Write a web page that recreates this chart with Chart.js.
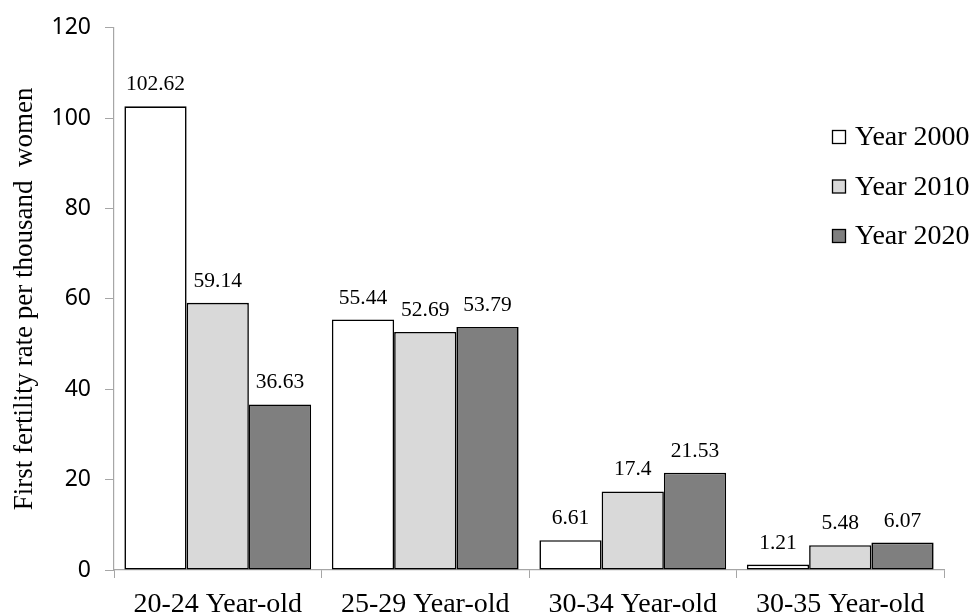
<!DOCTYPE html>
<html>
<head>
<meta charset="utf-8">
<script src="https://cdn.jsdelivr.net/npm/chart.js@4.4.1/dist/chart.umd.min.js"></script>
<style>
  html, body { margin: 0; padding: 0; background: #fff; }
  #wrap { width: 972px; height: 616px; }
</style>
</head>
<body>
<div id="wrap"><canvas id="chart" width="972" height="616"></canvas></div>
<script>
const AGE_GROUPS = ['20-24 Year-old', '25-29 Year-old', '30-34 Year-old', '30-35 Year-old'];
const YEAR_2000 = [102.62, 55.44, 6.61, 1.21];
const YEAR_2010 = [59.14, 52.69, 17.4, 5.48];
const YEAR_2020 = [36.63, 53.79, 21.53, 6.07];
const SERIES_NAMES = ['Year 2000', 'Year 2010', 'Year 2020'];

const FILLS = ['#ffffff', '#d9d9d9', '#7f7f7f'];
const SERIF = '"Liberation Serif", "Times New Roman", serif';

// value above each bar
const barLabels = {
  id: 'barLabels',
  afterDatasetsDraw(chart) {
    const ctx = chart.ctx;
    ctx.save();
    ctx.font = '21.5px ' + SERIF;
    ctx.fillStyle = '#000';
    ctx.textAlign = 'center';
    ctx.textBaseline = 'alphabetic';
    chart.data.datasets.forEach((ds, i) => {
      chart.getDatasetMeta(i).data.forEach((bar, j) => {
        ctx.fillText(String(ds.data[j]), bar.x, bar.y - 16);
      });
    });
    ctx.restore();
  }
};

// legend drawn inside the plot, upper right
const sideLegend = {
  id: 'sideLegend',
  afterDraw(chart) {
    const ctx = chart.ctx;
    ctx.save();
    ctx.font = '28px ' + SERIF;
    ctx.textBaseline = 'middle';
    ctx.textAlign = 'left';
    chart.data.datasets.forEach((ds, i) => {
      const y = 137 + i * 49.5;
      ctx.fillStyle = ds.backgroundColor;
      ctx.fillRect(832.5, y - 6.5, 13, 13);
      ctx.strokeStyle = '#000';
      ctx.lineWidth = 1.3;
      ctx.strokeRect(832.5, y - 6.5, 13, 13);
      ctx.fillStyle = '#000';
      ctx.fillText(ds.label, 855, y + 1);
    });
    ctx.restore();
  }
};

const datasets = [YEAR_2000, YEAR_2010, YEAR_2020].map((values, i) => ({
  label: SERIES_NAMES[i],
  data: values,
  backgroundColor: FILLS[i],
  borderColor: '#000',
  borderWidth: 1.6,
  borderSkipped: false,
  categoryPercentage: 0.9,
  barPercentage: 1.0,
}));

new Chart(document.getElementById('chart').getContext('2d'), {
  type: 'bar',
  data: { labels: AGE_GROUPS, datasets },
  plugins: [barLabels, sideLegend],
  options: {
    responsive: false,
    animation: false,
    layout: { padding: { top: 24, right: 28, left: 0, bottom: 0 } },
    plugins: {
      legend: { display: false },
      tooltip: { enabled: false },
    },
    scales: {
      x: {
        offset: true,
        grid: {
          offset: true,
          drawOnChartArea: false,
          color: '#a6a6a6',
          tickLength: 8,
        },
        border: { color: '#a6a6a6', width: 1.2 },
        ticks: {
          color: '#000',
          font: { family: SERIF, size: 28 },
          padding: 10,
          maxRotation: 0,
        },
        afterFit(scale) { scale.height = 46; },
      },
      y: {
        min: 0,
        max: 120,
        ticks: {
          stepSize: 20,
          color: '#000',
          font: { family: '"Noto Sans", sans-serif', size: 23 },
          padding: 14,
        },
        grid: {
          drawOnChartArea: false,
          color: '#a6a6a6',
          tickLength: 9,
        },
        border: { color: '#a6a6a6', width: 1.2 },
        title: {
          display: true,
          text: 'First fertility rate per thousand  women',
          color: '#000',
          font: { family: SERIF, size: 27 },
          padding: { top: 9, bottom: 0 },
        },
        afterFit(scale) { scale.width = 114; },
      },
    },
  },
});
</script>
</body>
</html>
